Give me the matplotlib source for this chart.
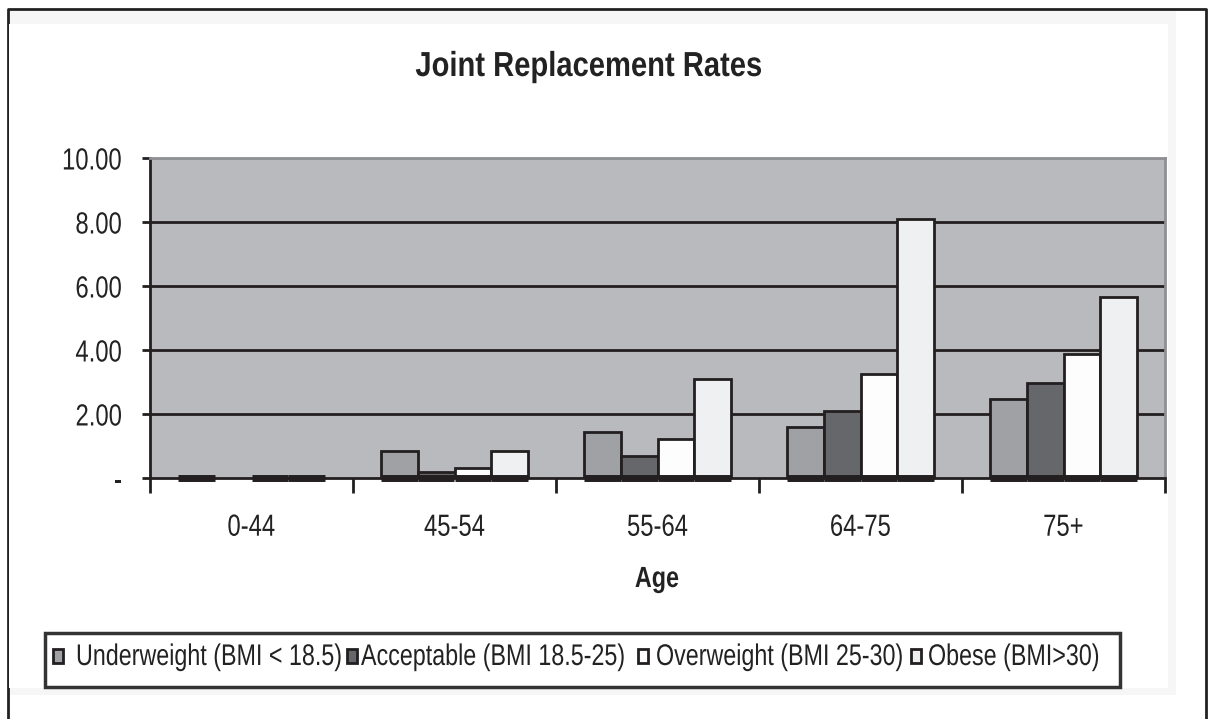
import numpy as np
import matplotlib.pyplot as plt
from matplotlib.patches import Rectangle
from matplotlib.lines import Line2D
from matplotlib.patheffects import AbstractPathEffect
from matplotlib.transforms import Affine2D

plt.rcParams['font.family'] = ['Liberation Sans Narrow', 'Liberation Sans', 'DejaVu Sans']

ages = ["0-44", "45-54", "55-64", "64-75", "75+"]
underweight = [0.0, 0.83, 1.45, 1.60, 2.48]
acceptable = [np.nan, 0.20, 0.69, 2.09, 2.98]
overweight = [0.0, 0.32, 1.21, 3.24, 3.88]
obese = [0.0, 0.84, 3.10, 8.08, 5.67]

series = [
    ("Underweight (BMI < 18.5)", underweight, "#a0a1a5"),
    ("Acceptable (BMI 18.5-25)", acceptable, "#66676b"),
    ("Overweight (BMI 25-30)", overweight, "#fdfdfd"),
    ("Obese (BMI>30)", obese, "#eff0f2"),
]
yticks = [0, 2, 4, 6, 8, 10]
ytick_labels = ["-", "2.00", "4.00", "6.00", "8.00", "10.00"]

edge = "#231f20"
ink = "#222222"


class Narrow(AbstractPathEffect):
    """Squeeze text horizontally, like a narrow typeface."""

    def __init__(self, sx=0.78, anchor="left"):
        super().__init__()
        self.sx = sx
        self.anchor = anchor

    def draw_path(self, renderer, gc, tpath, affine, rgbFace=None):
        xs = tpath.vertices[:, 0]
        x0 = {"left": 0.0, "center": xs.max() / 2, "right": xs.max()}[self.anchor]
        squeeze = Affine2D().translate(-x0, 0).scale(self.sx, 1).translate(x0, 0)
        renderer.draw_path(gc, tpath, squeeze + affine, rgbFace)


fig = plt.figure(figsize=(12.1, 7.19), dpi=100)
fig.patch.set_facecolor("white")
W, H = 1210, 719

# page frame and chart area background
fig.patches.append(Rectangle((9 / W, 1 - 695 / H), (1176 - 9) / W, (695 - 10) / H,
                             transform=fig.transFigure, facecolor="#f6f6f6",
                             edgecolor="none", zorder=-2))
fig.patches.append(Rectangle((9 / W, 1 - 688 / H), (1168 - 9) / W, (688 - 24) / H,
                             transform=fig.transFigure, facecolor="white",
                             edgecolor="none", zorder=-1))
fig.lines.append(Line2D([7.5 / W, 7.5 / W, 1205.5 / W, 1205.5 / W],
                        [0, 1 - 8.5 / H, 1 - 8.5 / H, 0],
                        transform=fig.transFigure, color=ink, lw=2, zorder=-1))

ax = fig.add_axes([150 / W, 1 - 478 / H, (1165 - 150) / W, (478 - 158) / H])
ax.set_facecolor("#b9babe")

x = np.arange(len(ages))
w = 1 / 5.5
for i, (name, vals, col) in enumerate(series):
    vals = np.array(vals, dtype=float)
    pos = x + (i - 1.5) * w
    ax.bar(pos, vals, width=w, color=col, edgecolor=edge, linewidth=2, zorder=3, label=name)
    # heavy base line under each plotted bar
    ok = ~np.isnan(vals)
    ax.bar(pos[ok], np.zeros(ok.sum()), width=w, color="none", edgecolor=edge,
           linewidth=5, zorder=4, clip_on=False)

ax.set_xlim(-0.5, len(ages) - 0.5)
ax.set_ylim(0, 10)
ax.set_yticks(yticks)
ax.set_yticklabels(ytick_labels)
for yv in yticks[1:-1]:
    ax.axhline(yv, color=edge, lw=2, zorder=2)

ax.set_xticks(x)
ax.set_xticklabels(ages)
ax.set_xticks(np.arange(len(ages) + 1) - 0.5, minor=True)
ax.tick_params(axis="x", which="major", length=0, pad=25, labelsize=22, labelcolor=ink)
ax.tick_params(axis="x", which="minor", length=11, width=2, direction="out", color=edge)
ax.tick_params(axis="y", length=6, width=2, direction="out", color=edge, pad=14,
               labelsize=22, labelcolor=ink)
for t in ax.get_xticklabels():
    t.set_path_effects([Narrow(0.78, "center")])
for t in ax.get_yticklabels():
    t.set_path_effects([Narrow(0.78, "right")])

for side in ["left", "bottom"]:
    ax.spines[side].set_color(edge)
    ax.spines[side].set_linewidth(2)
for side in ["top", "right"]:
    ax.spines[side].set_color("#8e8f93")
    ax.spines[side].set_linewidth(2)

fig.text(657 / W, 1 - 587 / H, "Age", ha="center", va="baseline", fontsize=21,
         fontweight="bold", color=ink, path_effects=[Narrow(0.8, "center")])
fig.text(589 / W, 1 - 76 / H, "Joint Replacement Rates", ha="center", va="baseline",
         fontsize=25, fontweight="bold", color=ink, path_effects=[Narrow(0.84, "center")])

# legend box drawn by hand so the narrow labels sit tight together
fig.patches.append(Rectangle((45 / W, 1 - 687 / H), (1120 - 45) / W, (687 - 633) / H,
                             transform=fig.transFigure, facecolor="white",
                             edgecolor="#333333", linewidth=2.5, zorder=1))
key_x = [53, 347, 638, 911]
label_x = [76, 361, 656, 928]
for (name, _, col), kx, lx in zip(series, key_x, label_x):
    fig.patches.append(Rectangle((kx / W, 1 - 663 / H), 10 / W, 14 / H,
                                 transform=fig.transFigure, facecolor=col,
                                 edgecolor=edge, linewidth=2, zorder=2))
    fig.text(lx / W, 1 - 665 / H, name, ha="left", va="baseline",
             fontsize=21.5, color=ink, zorder=2, path_effects=[Narrow(0.78, "left")])

fig.savefig("out.png", dpi=100)
